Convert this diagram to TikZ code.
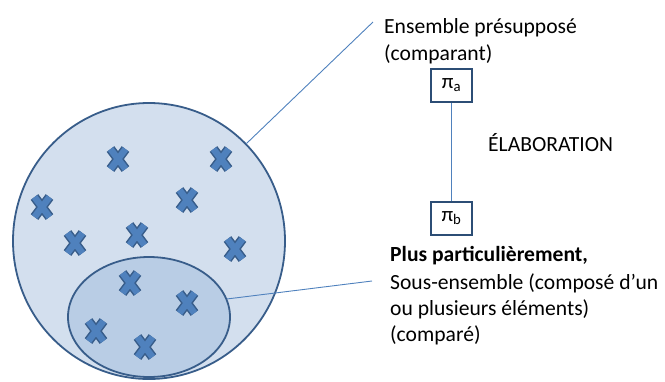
\documentclass[tikz,border=0pt]{standalone}
\usepackage{fontspec}
\setmainfont{Carlito}
\usetikzlibrary{shapes.geometric}
\definecolor{outerfill}{HTML}{D3DFEE}
\definecolor{innerfill}{HTML}{B9CDE5}
\definecolor{edge}{HTML}{385D8A}
\definecolor{markfill}{HTML}{4F81BD}
\definecolor{boxedge}{HTML}{2C4D75}
\begin{document}
\begin{tikzpicture}[x=1pt,y=-1pt,
  setshape/.style={ellipse,draw=edge,line width=1.8pt,inner sep=0pt},
  pibox/.style={draw=boxedge,line width=2.2pt,minimum width=41pt,minimum height=33pt,inner sep=0pt,font=\fontsize{21}{24}\selectfont},
  link/.style={draw=markfill,line width=0.9pt},
  lbl/.style={anchor=base west,inner sep=0pt,font=\fontsize{21.6}{26}\selectfont},
  xo/.style={draw=edge,line width=9.5pt},
  xi/.style={draw=markfill,line width=6.5pt},
  xmark/.pic={
    \draw[xo] (-7.5,-10)--(7.5,10) (-7.5,10)--(7.5,-10);
    \draw[xi] (-7.5,-10)--(7.5,10) (-7.5,10)--(7.5,-10);
  }]
\useasboundingbox (0,0) rectangle (665,381);
\node[setshape,fill=outerfill,minimum width=272pt,minimum height=276pt] (big) at (149,241) {};
\node[setshape,fill=innerfill,minimum width=162pt,minimum height=120pt] (sub) at (149,317) {};
\foreach \p in {(118,159),(221,159),(42,207),(187,200),(75,243),(137,235),(235,249),(130,283),(187,303),(96,331),(145,347)}
  \pic at \p {xmark};
\node[lbl] (ens1) at (384,33) {Ensemble présupposé};
\node[lbl] (ens2) at (384,60) {(comparant)};
\node[pibox] (pa) at (451.5,85.5) {π\textsubscript{a}};
\node[pibox] (pb) at (451.5,218.5) {π\textsubscript{b}};
\node[lbl] (elab) at (488,151) {ÉLABORATION};
\node[lbl] (plus) at (390,261) {\textbf{Plus particulièrement,}};
\node[lbl] (sous1) at (390,289) {Sous-ensemble (composé d’un};
\node[lbl] (sous2) at (390,315) {ou plusieurs éléments)};
\node[lbl] (sous3) at (390,341) {(comparé)};
\coordinate (e1) at (373,22);
\coordinate (e2) at (372,281);
\draw[link] (big.45) -- (e1);
\draw[link] (sub.13) -- (e2);
\draw[link] (pa) -- (pb);
\end{tikzpicture}
\end{document}
